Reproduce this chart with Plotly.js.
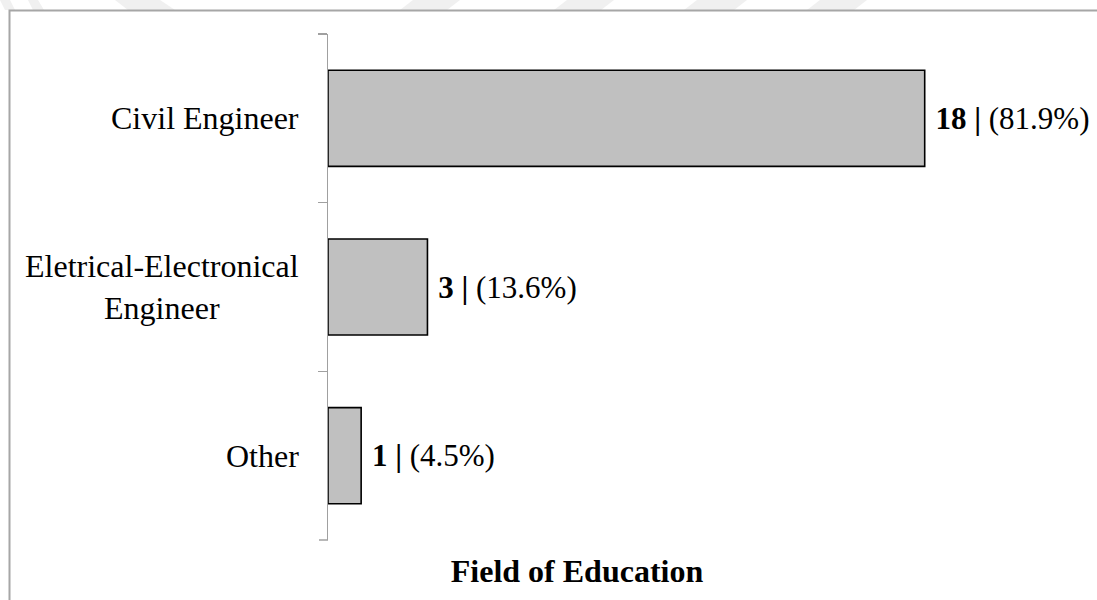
<!DOCTYPE html>
<html>
<head>
<meta charset="utf-8">
<script src="https://cdn.plot.ly/plotly-3.0.1.min.js"></script>
<style>html,body{margin:0;padding:0;background:#fff;}#chart{width:1097px;height:600px;}</style>
</head>
<body>
<div id="chart"></div>
<script>
// ---- data ----
const categories = ['Civil Engineer', 'Eletrical-Electronical Engineer', 'Other'];
const tickLabels = ['Civil Engineer', 'Eletrical-Electronical<br>Engineer', 'Other'];
const counts = [18, 3, 1];
const percents = ['81.9%', '13.6%', '4.5%'];
const axisTitle = 'Field of Education';

// ---- layout geometry (styling only) ----
const W = 1097, H = 600;
const M = {l: 328, r: 106, t: 34, b: 60};
const pw = W - M.l - M.r, ph = H - M.t - M.b;
const px = x => (x - M.l) / pw;
const py = y => (H - M.b - y) / ph;

const serif = 'Liberation Serif, Times New Roman, serif';

const trace = {
  type: 'bar',
  orientation: 'h',
  y: categories,
  x: counts,
  customdata: percents,
  marker: {color: '#c0c0c0', line: {color: '#000000', width: 1.6}},
  texttemplate: '\u00a0<b>%{x} |</b> (%{customdata})',
  textposition: 'outside',
  textfont: {family: serif, size: 31, color: '#000'},
  constraintext: 'none',
  cliponaxis: false,
  hoverinfo: 'none'
};

// watermark stripes (decorative), pixel parallelograms
const stripes = [
  [[0,0],[10,0],[15,10],[5,10]],
  [[28,0],[38,0],[44,10],[33,10]],
  [[115,0],[160,0],[175,10],[128,10]],
  [[413,0],[460,0],[447,10],[400,10]],
  [[567,0],[614,0],[601,10],[554,10]],
  [[697,0],[747,0],[734,10],[684,10]],
  [[820,0],[867,0],[854,10],[807,10]]
];
const shapes = stripes.map(p => ({
  type: 'path', xref: 'paper', yref: 'paper', layer: 'below',
  path: 'M' + p.map(q => px(q[0]) + ',' + py(q[1])).join('L') + 'Z',
  fillcolor: '#f0f0f0', line: {width: 0}
}));
shapes.push({
  type: 'rect', xref: 'paper', yref: 'paper', layer: 'below',
  x0: px(9.5), x1: px(1110), y0: py(10.5), y1: py(620),
  line: {color: '#a6a6a6', width: 2}, fillcolor: 'rgba(0,0,0,0)'
});
// closing tick at the bottom boundary of the category axis
shapes.push({
  type: 'line', xref: 'paper', yref: 'paper',
  x0: px(319), x1: px(328), y0: 0, y1: 0,
  line: {color: '#a0a0a0', width: 1.5}
});

const annotations = categories.map((c, i) => ({
  xref: 'paper', yref: 'y', x: px(301), y: c,
  xanchor: 'right', yanchor: 'middle', align: 'center',
  text: tickLabels[i], showarrow: false,
  font: {family: serif, size: 32, color: '#000'}
}));

const layout = {
  width: W, height: H,
  margin: M,
  paper_bgcolor: '#ffffff', plot_bgcolor: 'rgba(0,0,0,0)',
  showlegend: false,
  bargap: 0.43,
  title: {
    text: '<b>' + axisTitle + '</b>',
    x: 577 / W, xref: 'container', xanchor: 'center',
    y: 1 - 571 / H, yref: 'container', yanchor: 'middle',
    font: {family: serif, size: 32, color: '#000'}
  },
  xaxis: {
    range: [0, 20], visible: false, fixedrange: true
  },
  yaxis: {
    type: 'category', range: [2.5, -0.5],
    showline: true, linecolor: '#a0a0a0', linewidth: 1.5,
    ticks: 'outside', tickson: 'boundaries', ticklen: 9, tickcolor: '#a0a0a0', tickwidth: 1.5,
    showticklabels: false, showgrid: false, zeroline: false, fixedrange: true
  },
  shapes: shapes,
  annotations: annotations
};

Plotly.newPlot('chart', [trace], layout, {staticPlot: true, displayModeBar: false});
</script>
</body>
</html>
